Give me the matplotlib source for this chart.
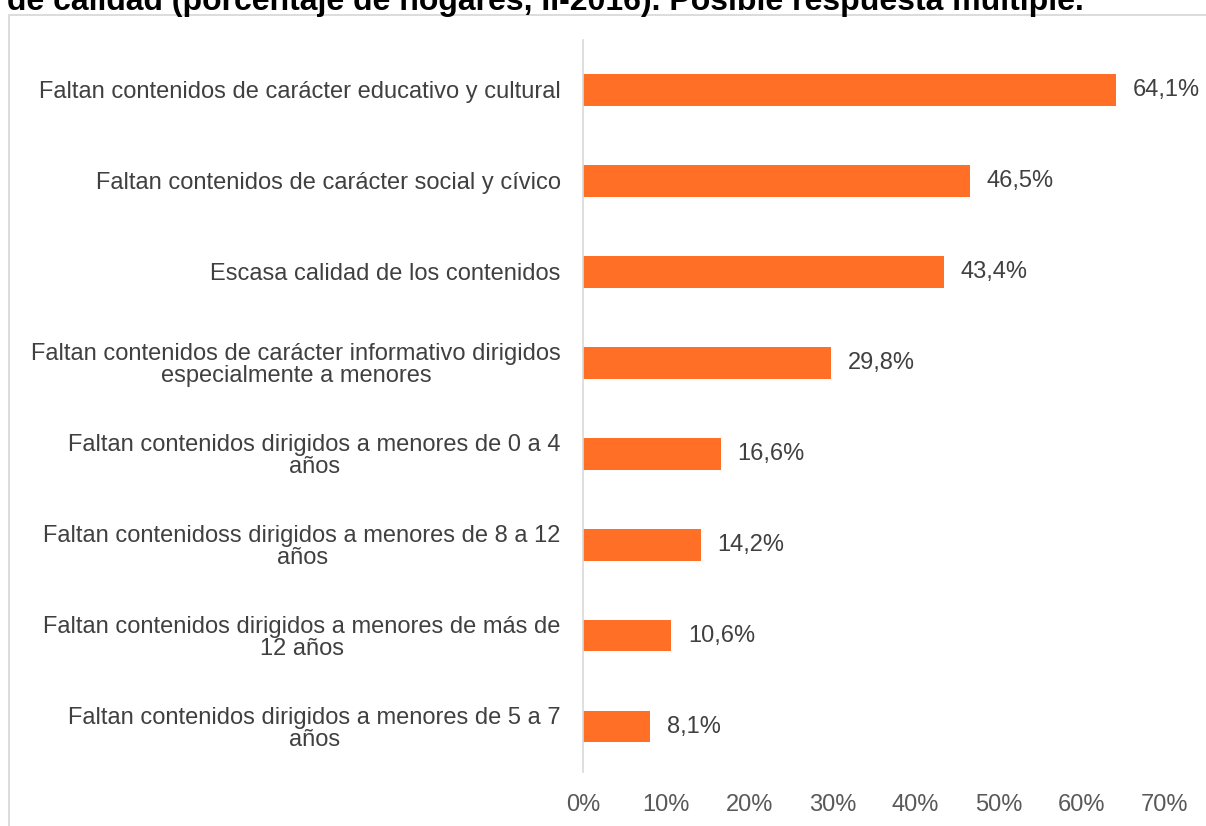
import matplotlib.pyplot as plt
from matplotlib.patches import Rectangle

plt.rcParams['font.family'] = ['Liberation Sans', 'DejaVu Sans']

categories = [
    'Faltan contenidos de carácter educativo y cultural',
    'Faltan contenidos de carácter social y cívico',
    'Escasa calidad de los contenidos',
    'Faltan contenidos de carácter informativo dirigidos\nespecialmente a menores',
    'Faltan contenidos dirigidos a menores de 0 a 4\naños',
    'Faltan contenidoss dirigidos a menores de 8 a 12\naños',
    'Faltan contenidos dirigidos a menores de más de\n12 años',
    'Faltan contenidos dirigidos a menores de 5 a 7\naños',
]
values = [64.1, 46.5, 43.4, 29.8, 16.6, 14.2, 10.6, 8.1]
xticks = [0, 10, 20, 30, 40, 50, 60, 70]
title = 'de calidad (porcentaje de hogares, II-2016). Posible respuesta múltiple.'

fig = plt.figure(figsize=(12.06, 8.26), dpi=100)
ax = fig.add_axes([0.4834, 0.0654, 0.966 - 0.4834, 0.9516 - 0.0654])

ypos = list(range(len(values)))
ax.barh(ypos, values, height=0.35, color='#FF7026')
ax.set_ylim(len(values) - 0.5, -0.55)
ax.set_xlim(0, 70)

for y, v in zip(ypos, values):
    ax.annotate(f'{v:.1f}%'.replace('.', ','), (v, y), textcoords='offset points',
                xytext=(12, 0), va='center', ha='left', fontsize=17, color='#404040')

ax.set_yticks(ypos)
ax.set_yticklabels(categories, fontsize=17, color='#404040',
                   multialignment='center', linespacing=1.0)
ax.set_xticks(xticks)
ax.set_xticklabels([f'{t}%' for t in xticks], fontsize=17, color='#595959')
ax.tick_params(axis='both', length=0)
ax.tick_params(axis='x', pad=16)
ax.tick_params(axis='y', pad=16)

for s in ['top', 'right', 'bottom']:
    ax.spines[s].set_visible(False)
ax.spines['left'].set_color('#d9d9d9')
ax.spines['left'].set_linewidth(1.2)

# chart frame (cut off at right/bottom)
fig.patches.append(Rectangle((8.5 / 1206, -0.1), 1.2, 1 - 14.5 / 826 + 0.1,
                             transform=fig.transFigure, fill=False,
                             edgecolor='#d9d9d9', linewidth=1.3))

fig.text(7 / 1206, 1 - 10 / 826, title, fontsize=23, fontweight='bold',
         color='black', ha='left', va='baseline')

fig.savefig('out.png', dpi=100)
